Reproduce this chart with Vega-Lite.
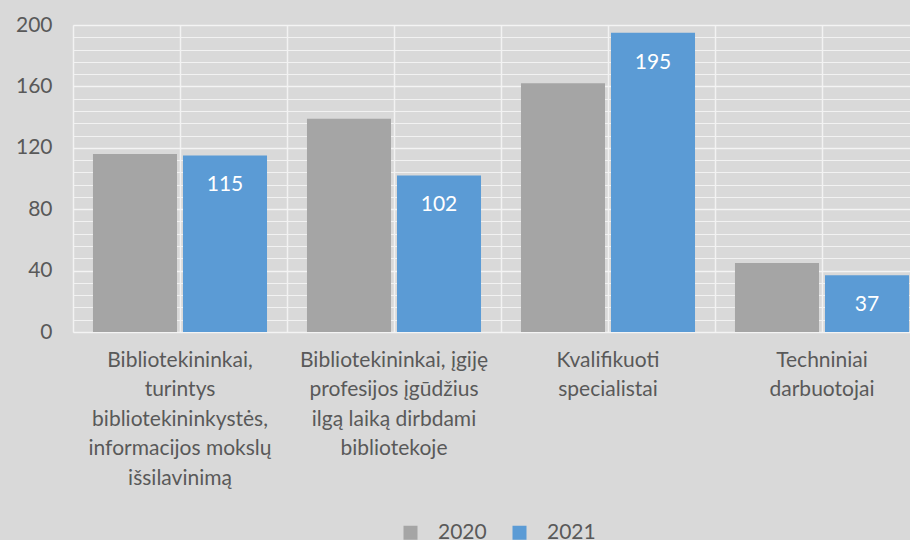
{
  "$schema": "https://vega.github.io/schema/vega-lite/v6.json",
  "width": 856,
  "height": 307,
  "autosize": {"type": "none"},
  "padding": {"left": 73, "top": 25, "right": 0, "bottom": 208},
  "background": "#d9d9d9",
  "config": {"view": {"stroke": null}, "font": "Lato"},
  "data": {
    "values": [
      {"category": "Bibliotekininkai,|turintys|bibliotekininkystės,|informacijos mokslų|išsilavinimą", "year": "2020", "value": 116},
      {"category": "Bibliotekininkai,|turintys|bibliotekininkystės,|informacijos mokslų|išsilavinimą", "year": "2021", "value": 115},
      {"category": "Bibliotekininkai, įgiję|profesijos įgūdžius|ilgą laiką dirbdami|bibliotekoje", "year": "2020", "value": 139},
      {"category": "Bibliotekininkai, įgiję|profesijos įgūdžius|ilgą laiką dirbdami|bibliotekoje", "year": "2021", "value": 102},
      {"category": "Kvalifikuoti|specialistai", "year": "2020", "value": 162},
      {"category": "Kvalifikuoti|specialistai", "year": "2021", "value": 195},
      {"category": "Techniniai|darbuotojai", "year": "2020", "value": 45},
      {"category": "Techniniai|darbuotojai", "year": "2021", "value": 37}
    ]
  },
  "resolve": {"axis": {"x": "independent", "y": "independent"}},
  "layer": [
    {
      "mark": {"type": "bar"},
      "encoding": {
        "x": {
          "field": "category", "type": "nominal", "sort": null,
          "scale": {"paddingInner": 0, "paddingOuter": 0},
          "axis": {"orient": "bottom", "bandPosition": 0, "labels": false, "ticks": false, "domain": false, "title": null, "grid": true, "gridColor": "#f2f2f2", "gridWidth": 1.5}
        },
        "xOffset": {"field": "year", "type": "nominal", "scale": {"paddingInner": 0.0667, "paddingOuter": 0.222}},
        "y": {
          "field": "value", "type": "quantitative",
          "scale": {"domain": [0, 200], "nice": false},
          "axis": {
            "orient": "left", "labels": false,
            "values": [0, 8, 16, 24, 32, 40, 48, 56, 64, 72, 80, 88, 96, 104, 112, 120, 128, 136, 144, 152, 160, 168, 176, 184, 192, 200],
            "tickCount": 26,
            "title": null, "domain": false, "ticks": false,
            "grid": true, "gridColor": "#f2f2f2", "gridWidth": 1.2
          }
        },
        "color": {
          "field": "year", "type": "nominal",
          "scale": {"domain": ["2020", "2021"], "range": ["#a5a5a5", "#5b9bd5"]},
          "legend": {
            "orient": "none", "legendX": 327, "legendY": 497, "direction": "horizontal", "title": null,
            "symbolType": "square", "symbolSize": 196, "symbolStrokeWidth": 0,
            "labelFontSize": 21, "labelColor": "#595959", "columnPadding": 22, "labelOffset": 17
          }
        }
      }
    },
    {
      "transform": [{"filter": "datum.year === '2021'"}],
      "mark": {"type": "text", "color": "white", "fontSize": 21, "baseline": "middle", "dy": 30},
      "encoding": {
        "x": {
          "field": "category", "type": "nominal", "sort": null,
          "axis": {
            "orient": "bottom",
            "labelExpr": "split(datum.label, '|')", "labelAngle": 0, "labelLimit": 0,
            "labelFontSize": 21, "labelColor": "#595959", "labelLineHeight": 29.5, "labelBaseline": "top",
            "labelPadding": 17, "ticks": false, "domain": false, "title": null,
            "grid": true, "gridColor": "#f2f2f2", "gridWidth": 1.5
          }
        },
        "xOffset": {"field": "year", "type": "nominal"},
        "y": {
          "field": "value", "type": "quantitative",
          "axis": {
            "orient": "left",
            "values": [0, 40, 80, 120, 160, 200],
            "title": null, "domain": false, "ticks": false,
            "grid": true, "gridColor": "#f4f4f4", "gridWidth": 1.5,
            "labelOverlap": false, "labelFlush": false,
            "labelFontSize": 21, "labelColor": "#595959", "labelPadding": 21
          }
        },
        "text": {"field": "value", "type": "quantitative"}
      }
    }
  ]
}
